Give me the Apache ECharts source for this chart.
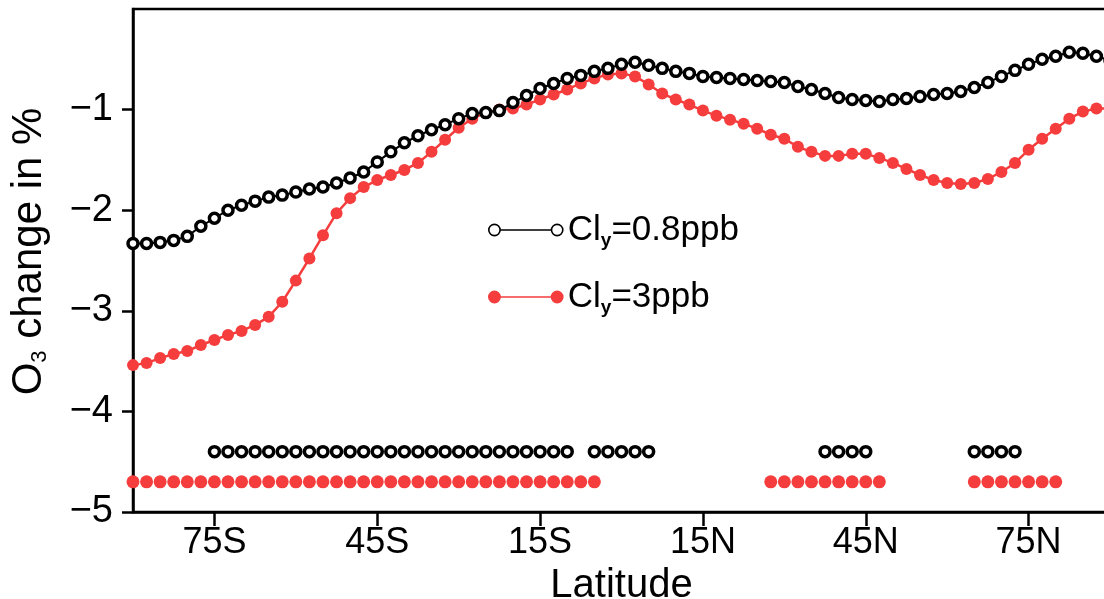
<!DOCTYPE html>
<html>
<head>
<meta charset="utf-8">
<script src="https://cdn.jsdelivr.net/npm/echarts@6/dist/echarts.min.js"></script>
<style>
  html, body { margin: 0; padding: 0; background: #fff; }
  #chart { width: 1104px; height: 599px; }
</style>
</head>
<body>
<div id="chart"></div>
<script>
// latitude grid (deg), 2.5 deg steps
const lats = [
  -90, -87.5, -85, -82.5, -80, -77.5, -75, -72.5, -70, -67.5, -65, -62.5,
  -60, -57.5, -55, -52.5, -50, -47.5, -45, -42.5, -40, -37.5, -35, -32.5,
  -30, -27.5, -25, -22.5, -20, -17.5, -15, -12.5, -10, -7.5, -5, -2.5,
  0, 2.5, 5, 7.5, 10, 12.5, 15, 17.5, 20, 22.5, 25, 27.5,
  30, 32.5, 35, 37.5, 40, 42.5, 45, 47.5, 50, 52.5, 55, 57.5,
  60, 62.5, 65, 67.5, 70, 72.5, 75, 77.5, 80, 82.5, 85, 87.5, 90
];

// O3 change in % for Cly = 0.8 ppb
const cly08 = [
  -2.33, -2.33, -2.32, -2.30, -2.26, -2.16, -2.08, -2.00, -1.95, -1.91, -1.87, -1.85,
  -1.82, -1.79, -1.77, -1.73, -1.68, -1.62, -1.52, -1.42, -1.33, -1.26, -1.20, -1.15,
  -1.09, -1.04, -1.03, -1.01, -0.93, -0.86, -0.79, -0.74, -0.69, -0.66, -0.62, -0.59,
  -0.55, -0.53, -0.56, -0.59, -0.62, -0.64, -0.67, -0.68, -0.69, -0.70, -0.71, -0.72,
  -0.73, -0.77, -0.80, -0.84, -0.88, -0.90, -0.91, -0.92, -0.90, -0.89, -0.87, -0.85,
  -0.84, -0.82, -0.78, -0.73, -0.67, -0.61, -0.55, -0.50, -0.47, -0.43, -0.44, -0.47, -0.51
];

// O3 change in % for Cly = 3 ppb
const cly3 = [
  -3.54, -3.52, -3.47, -3.43, -3.40, -3.34, -3.29, -3.24, -3.20, -3.14, -3.06, -2.91,
  -2.70, -2.48, -2.25, -2.03, -1.88, -1.77, -1.70, -1.65, -1.60, -1.53, -1.42, -1.30,
  -1.18, -1.09, -1.03, -1.00, -0.99, -0.95, -0.90, -0.85, -0.80, -0.74, -0.69, -0.65,
  -0.64, -0.67, -0.75, -0.84, -0.90, -0.95, -1.01, -1.06, -1.10, -1.14, -1.19, -1.25,
  -1.29, -1.37, -1.42, -1.46, -1.46, -1.44, -1.44, -1.48, -1.53, -1.59, -1.65, -1.70,
  -1.73, -1.74, -1.73, -1.69, -1.62, -1.53, -1.40, -1.29, -1.19, -1.09, -1.02, -0.99, -0.99
];

// latitudes where the change is significant (row markers near the bottom)
const sigLats08 = [
  -75, -72.5, -70, -67.5, -65, -62.5, -60, -57.5, -55, -52.5, -50, -47.5, -45,
  -42.5, -40, -37.5, -35, -32.5, -30, -27.5, -25, -22.5, -20, -17.5, -15, -12.5, -10,
  -5, -2.5, 0, 2.5, 5,
  37.5, 40, 42.5, 45,
  65, 67.5, 70, 72.5
];
const sigLats3 = [
  -90, -87.5, -85, -82.5, -80, -77.5, -75, -72.5, -70, -67.5, -65, -62.5,
  -60, -57.5, -55, -52.5, -50, -47.5, -45, -42.5, -40, -37.5, -35, -32.5,
  -30, -27.5, -25, -22.5, -20, -17.5, -15, -12.5, -10, -7.5, -5,
  27.5, 30, 32.5, 35, 37.5, 40, 42.5, 45, 47.5,
  65, 67.5, 70, 72.5, 75, 77.5, 80
];
const sigLevel08 = -4.4;
const sigLevel3 = -4.7;

const latTicks = [-75, -45, -15, 15, 45, 75];
const yTicks = [-5, -4, -3, -2, -1];

const RED = '#f53d3d';
const FONT = 'Liberation Sans';

const chart = echarts.init(document.getElementById('chart'));

const legendIcon = 'path://M1,6.5a5.5,5.5 0 1,0 11,0a5.5,5.5 0 1,0 -11,0M12,6.5L62,6.5M62,6.5a5.5,5.5 0 1,0 11,0a5.5,5.5 0 1,0 -11,0';

const option = {
  animation: false,
  backgroundColor: '#fff',
  grid: {
    left: 133, top: 9, width: 977, height: 503,
    outerBoundsMode: 'none',
    show: true, borderColor: '#000', borderWidth: 2.5
  },
  legend: {
    orient: 'vertical',
    left: 483, top: 205,
    itemWidth: 74, itemHeight: 13,
    itemGap: 27,
    selectedMode: false,
    data: [
      { name: 'Cly=0.8ppb', icon: legendIcon,
        itemStyle: { color: '#fff', borderColor: '#000', borderWidth: 1.6 } },
      { name: 'Cly=3ppb', icon: legendIcon,
        itemStyle: { color: RED, borderColor: RED, borderWidth: 1.6 } }
    ],
    formatter: name => '{a|Cl}{s|y}{a|' + name.slice(3) + '}',
    textStyle: {
      color: '#000', fontFamily: FONT, lineHeight: 40,
      rich: {
        a: { fontSize: 35, fontFamily: FONT, color: '#000', lineHeight: 40 },
        s: { fontSize: 19, fontFamily: FONT, color: '#000', fontWeight: 'bold',
             lineHeight: 19, verticalAlign: 'bottom' }
      }
    }
  },
  xAxis: {
    type: 'value', min: -90, max: 90,
    name: 'Latitude', nameLocation: 'middle', nameGap: 46,
    nameTextStyle: { fontSize: 40, fontFamily: FONT, color: '#000' },
    axisLine: { onZero: false, lineStyle: { color: '#000', width: 2.5 } },
    axisTick: { customValues: latTicks, length: 14, lineStyle: { color: '#000', width: 2.5 } },
    axisLabel: {
      customValues: latTicks, margin: 13, fontSize: 36, fontFamily: FONT, color: '#000',
      formatter: v => v < 0 ? Math.abs(v) + 'S' : v + 'N'
    },
    splitLine: { show: false }
  },
  yAxis: {
    type: 'value', min: -5, max: 0,
    name: '{a|O}{s|3}{a| change in %}', nameLocation: 'middle', nameGap: 82, nameRotate: 90,
    nameTextStyle: {
      color: '#000', padding: [0, 0, 0, 18],
      rich: {
        a: { fontSize: 42, fontFamily: FONT, color: '#000', lineHeight: 44 },
        s: { fontSize: 22, fontFamily: FONT, color: '#000', lineHeight: 22, verticalAlign: 'bottom' }
      }
    },
    axisLine: { onZero: false, lineStyle: { color: '#000', width: 2.5 } },
    axisTick: { customValues: yTicks, length: 11, lineStyle: { color: '#000', width: 2.5 } },
    axisLabel: {
      customValues: yTicks, margin: 20, fontSize: 38, fontFamily: FONT, color: '#000',
      formatter: v => '\u2212' + Math.abs(v)
    },
    splitLine: { show: false }
  },
  series: [
    {
      name: 'Cly=3ppb', type: 'line',
      data: lats.map((x, i) => [x, cly3[i]]),
      symbol: 'circle', symbolSize: 12,
      lineStyle: { color: RED, width: 2.5 },
      itemStyle: { color: RED, borderWidth: 0 },
      z: 2
    },
    {
      name: 'Cly=0.8ppb', type: 'line',
      data: lats.map((x, i) => [x, cly08[i]]),
      symbol: 'circle', symbolSize: 10,
      lineStyle: { color: '#000', width: 2 },
      itemStyle: { color: '#fff', borderColor: '#000', borderWidth: 3.5 },
      z: 3
    },
    {
      name: 'sig08', type: 'scatter',
      data: sigLats08.map(x => [x, sigLevel08]),
      symbol: 'circle', symbolSize: 10,
      itemStyle: { color: '#fff', borderColor: '#000', borderWidth: 3.5, opacity: 1 }
    },
    {
      name: 'sig3', type: 'scatter',
      data: sigLats3.map(x => [x, sigLevel3]),
      symbol: 'circle', symbolSize: 13,
      itemStyle: { color: RED, borderWidth: 0, opacity: 1 }
    }
  ]
};

chart.setOption(option);
</script>
</body>
</html>
